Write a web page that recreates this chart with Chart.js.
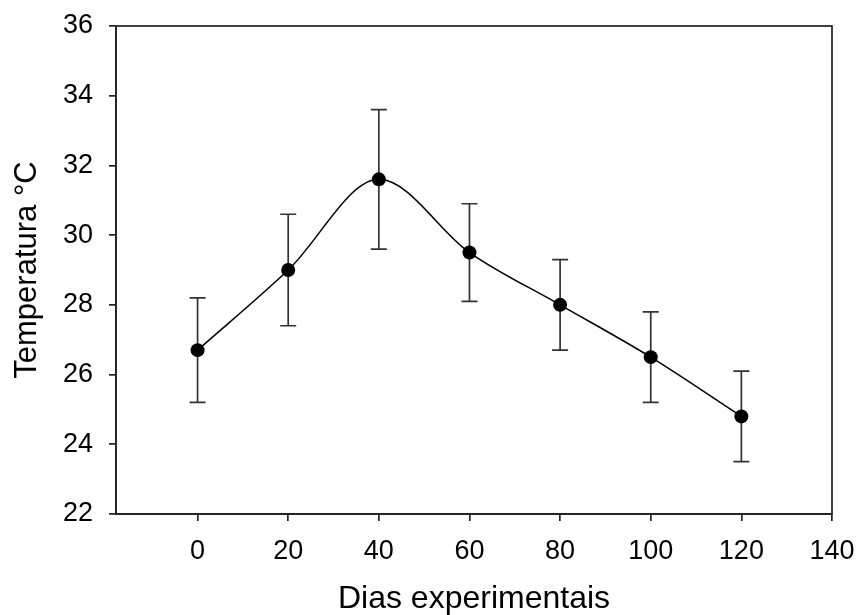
<!DOCTYPE html>
<html>
<head>
<meta charset="utf-8">
<script src="https://cdn.jsdelivr.net/npm/chart.js@4"></script>
<style>
  html, body { margin: 0; padding: 0; background: #fff; }
  #wrap { width: 857px; height: 615px; }
</style>
</head>
<body>
<div id="wrap"><canvas id="grafico" width="857" height="615"></canvas></div>
<script>
const dias = [0, 20, 40, 60, 80, 100, 120];
const temperatura = [26.7, 29.0, 31.6, 29.5, 28.0, 26.5, 24.8];
const erroPadrao = [1.5, 1.6, 2.0, 1.4, 1.3, 1.3, 1.3];
const ticksX = [0, 20, 40, 60, 80, 100, 120, 140];
const ticksY = [22, 24, 26, 28, 30, 32, 34, 36];

const corEixo = '#222';
const fonte = 'Liberation Sans, Arial, sans-serif';

// barras de erro e moldura do grafico
const pluginErro = {
  id: 'barrasErro',
  beforeDatasetsDraw(chart) {
    const ctx = chart.ctx;
    const x = chart.scales.x;
    const y = chart.scales.y;
    ctx.save();
    ctx.strokeStyle = '#333';
    ctx.lineWidth = 1.7;
    dias.forEach((d, i) => {
      const px = x.getPixelForValue(d);
      const yTopo = y.getPixelForValue(temperatura[i] + erroPadrao[i]);
      const yBase = y.getPixelForValue(temperatura[i] - erroPadrao[i]);
      ctx.beginPath();
      ctx.moveTo(px, yTopo); ctx.lineTo(px, yBase);
      ctx.moveTo(px - 8, yTopo); ctx.lineTo(px + 8, yTopo);
      ctx.moveTo(px - 8, yBase); ctx.lineTo(px + 8, yBase);
      ctx.stroke();
    });
    ctx.restore();
  },
  afterDraw(chart) {
    const a = chart.chartArea;
    const ctx = chart.ctx;
    ctx.save();
    ctx.strokeStyle = corEixo;
    ctx.lineWidth = 1.7;
    ctx.strokeRect(a.left, a.top, a.right - a.left, a.bottom - a.top);
    ctx.restore();
  }
};

const ctx = document.getElementById('grafico').getContext('2d');
new Chart(ctx, {
  type: 'line',
  data: {
    datasets: [{
      data: dias.map((d, i) => ({ x: d, y: temperatura[i] })),
      borderColor: '#000',
      borderWidth: 1.5,
      cubicInterpolationMode: 'monotone',
      pointRadius: 7,
      pointBackgroundColor: '#000',
      pointBorderColor: '#000',
      pointBorderWidth: 0
    }]
  },
  options: {
    responsive: false,
    animation: false,
    layout: { padding: { top: 26, right: 25, left: 0, bottom: 0 } },
    plugins: { legend: { display: false }, tooltip: { enabled: false } },
    scales: {
      x: {
        type: 'linear',
        min: -18,
        max: 140,
        afterBuildTicks: s => { s.ticks = ticksX.map(v => ({ value: v })); },
        afterFit: s => { s.height = 101; s.paddingLeft = 0; s.paddingRight = 0; },
        grid: { drawOnChartArea: false, drawTicks: true, tickLength: 7, color: corEixo, lineWidth: 1.7 },
        border: { display: true, color: corEixo, width: 1.7 },
        ticks: { color: '#000', font: { family: fonte, size: 27 }, padding: 14, maxRotation: 0 },
        title: { display: true, text: 'Dias experimentais', color: '#000', font: { family: fonte, size: 32 }, padding: { top: 0, bottom: -3 } }
      },
      y: {
        min: 22,
        max: 36,
        afterBuildTicks: s => { s.ticks = ticksY.map(v => ({ value: v })); },
        afterFit: s => { s.width = 116; s.paddingTop = 0; s.paddingBottom = 0; },
        grid: { drawOnChartArea: false, drawTicks: true, tickLength: 7, color: corEixo, lineWidth: 1.7 },
        border: { display: true, color: corEixo, width: 1.7 },
        ticks: { color: '#000', font: { family: fonte, size: 27 }, padding: 16 },
        title: { display: true, text: 'Temperatura °C', color: '#000', font: { family: fonte, size: 31 }, padding: { top: 9, bottom: 0 } }
      }
    }
  },
  plugins: [pluginErro]
});
</script>
</body>
</html>
